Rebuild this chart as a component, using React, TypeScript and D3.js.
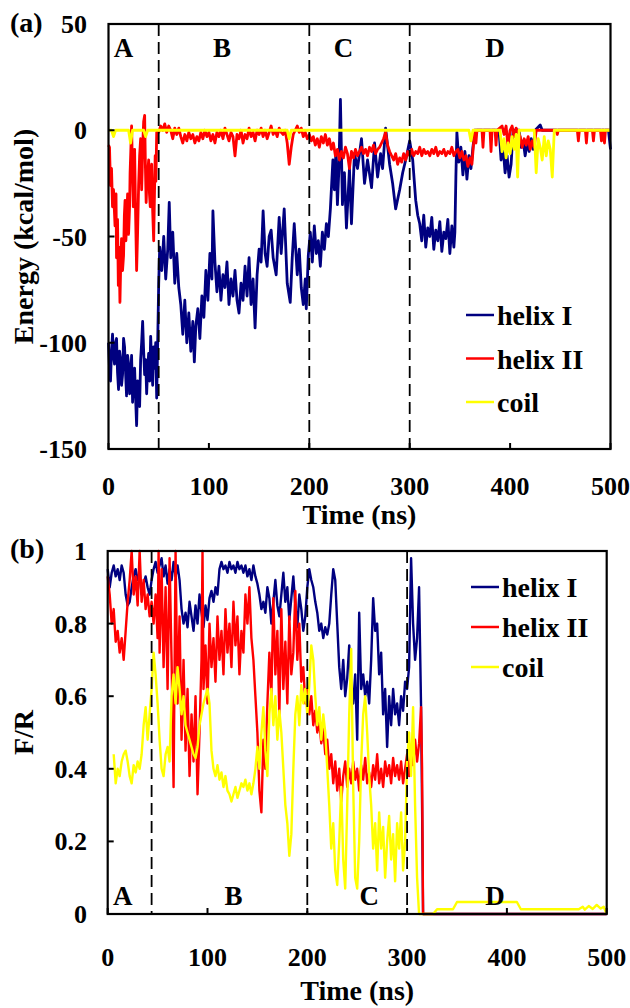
import React from 'react';
import * as d3 from 'd3';

type Pt = [number, number];

// ---- data (time in ns) ----
const timeTicks = [0, 100, 200, 300, 400, 500];
const energyTicks = [50, 0, -50, -100, -150];
const frTicks = [0, 0.2, 0.4, 0.6, 0.8, 1];
const seriesNames = ['helix I', 'helix II', 'coil'];
const seriesColors = ['#000080', '#ff0000', '#ffff00'];
const regionNames = ['A', 'B', 'C', 'D'];
const energyDividers = [50, 200, 300];
const frDividers = [44, 200, 300];

const energyHelixI: Pt[] = [
  [0, -100], [1, -112], [2, -118], [3, -104], [4, -96], [5, -106], [6, -110], [7, -100], [8, -98], [9, -114], [10, -122],
  [11, -104], [12, -108], [13, -120], [14, -115], [15, -98], [16, -102], [17, -114], [18, -125], [19, -106],
  [20, -110], [21, -124], [22, -118], [23, -106], [24, -128], [25, -116], [26, -112], [27, -126], [28, -139],
  [29, -118], [30, -120], [31, -130], [32, -108], [33, -100], [34, -90], [35, -104], [36, -115], [37, -108],
  [38, -124], [39, -112], [40, -105], [41, -118], [42, -97], [43, -110], [44, -120], [45, -102], [46, -112],
  [47, -100], [48, -126], [49, -100], [50, -72], [51, -55],
  [53, -66], [55, -50], [57, -70], [59, -56], [60.5, -34], [62, -60], [64, -48], [66, -72], [68, -58], [70, -74],
  [72, -82], [74, -96], [76, -80], [78, -100], [80, -86], [82, -104], [84, -90], [85.5, -109], [87, -92], [89, -84],
  [91, -98], [93, -78], [95, -88], [97, -66], [99, -80], [101, -58], [103, -70], [104, -38], [106, -62], [108, -76],
  [110, -64], [112, -80], [114, -68], [116, -74], [118, -62], [120, -82], [122, -70], [124, -78], [126, -66], [128, -80],
  [130, -86], [132, -72], [134, -80], [136, -64], [138, -78], [140, -60], [142, -82], [144, -70], [146, -93], [148, -68],
  [150, -56], [152, -62], [154, -38], [156, -58], [158, -64], [160, -50], [162, -47], [164, -60], [167, -68], [170, -41],
  [172, -58], [175, -37], [178, -72], [181, -81], [183, -60], [185, -44], [188, -68], [190, -56], [192, -74], [194, -82],
  [196, -70], [197, -84], [199, -59], [201, -48], [203, -62], [205, -45], [207, -58], [209, -52], [211, -64], [213, -48],
  [215, -56], [217, -44], [219, -50], [221, -37], [223.5, -14], [225, -28], [226.5, -10], [228, -35], [229.5, -18],
  [231, 14.5], [233, -35], [235, -20], [237, -46], [240, -18], [242, -44], [245, -11], [248, -18], [252, -4], [255, -25],
  [258, -14], [262, -27], [265, -6], [268, -22], [271, -11], [273, -18], [276, 1], [280, -16], [283, -25], [286, -37],
  [290, -28], [293, -20], [296, -14], [300, -5], [303, -14], [306, -33], [308, -40], [310, -44], [312, -52], [314, -40],
  [316, -55], [318, -46], [320, -50], [322, -41], [324, -56], [326, -47], [328, -52], [330, -43], [332, -57], [334, -48],
  [336, -51], [338, -42], [340, -58], [342, -45], [344, -55], [345, -48], [346, -22], [347, -1], [349, -15], [351, -8],
  [353, -21], [355, -10], [357, -23], [359, -12], [361, -18], [363, -8], [365, 0], [389, 0], [391, -14], [393, -8],
  [395, -20], [397, -12], [399, -22], [401, -16], [403, 0], [409, 0], [411, -8], [413, -5], [415, -12], [417, -6],
  [419, -10], [421, -4], [423, -9], [425, 0], [430, 2.5], [432, 0], [498, 0], [500, -9],
];

const energyHelixII: Pt[] = [
  [0, -7], [1, -8], [2, -26], [3, -18], [4, -36], [5, -28], [6.5, -45], [7.5, -30], [8, -60], [9, -42], [9.8, -73],
  [10.5, -55], [11.4, -81], [12.2, -62], [13, -51], [14, -66], [15, -59], [15.8, -40], [16.5, -33], [17.3, -52],
  [18, -45], [19, -30], [20, -49], [21, -36], [21.5, -20], [22.2, -10], [23, 2], [24, -22], [24.7, -36], [25.4, -18],
  [26, -9], [27, -40], [28, -66], [29, -48], [30, -26], [31, -12], [32, -4], [33, -28], [33.5, -20], [34.2, -6], [35, 4],
  [36, 7], [36.8, -18], [37.5, -34], [38.2, -24], [39, -20], [40, -14], [40.8, -30], [41.6, -36], [42.3, -22], [43, -16],
  [44, -38], [45, -52], [45.8, -30], [46.5, -12], [47.2, -24], [48, -1], [50, -1], [52, 2], [54, 0], [56, 3], [58, -1],
  [60, 2], [62, 0], [64, -4], [66, 1], [68, -2], [70, 1],
  [72, -3], [74, -6], [76, -2], [78, -5], [80, -1], [82, -4], [84, -2], [86, -6], [88, -3], [90, -5], [92, -1],
  [94, -4], [96, 0], [98, -3], [100, -1], [102, -5], [104, -2], [106, -6], [108, -1], [110, -3], [112, 0], [114, -4],
  [116, 1], [118, -2], [120, -5], [122, -1], [124, -3], [126, -12], [128, -2], [130, -4], [132, 0], [134, -6],
  [136, -2], [138, -4], [140, 1], [142, -3], [144, -1], [146, -5], [148, 0], [150, -2], [152, 1], [154, -3], [156, 0],
  [158, -4], [160, -1], [162, 2], [164, -2], [166, 0], [168, -3], [170, 1], [172, -1], [174, -2], [176, 0], [178, -6],
  [180, -16], [182, -8], [184, -2], [186, 0], [188, 2], [190, -1], [192, 1], [194, -3], [196, -1], [198, -4], [200, -2],
  [202, -5], [204, -3], [206, -7], [208, -4], [210, -8], [212, -3], [214, -6], [216, -2], [218, -7], [220, -4],
  [222, -9], [224, -6], [226, -12], [228, -9], [230, -14], [232, -10], [234, -13], [236, -8], [238, -11], [240, -18],
  [242, -10], [244, -13], [246, -9], [248, -12], [250, -10], [252, -8], [254, -11], [256, -9], [258, -12], [260, -8],
  [262, -10], [264, -7], [266, -11], [268, -9], [270, -8], [272, -6], [274, -4], [276, -1], [278, -7], [280, -10],
  [282, -12], [284, -14], [286, -11], [288, -16], [290, -13], [292, -15], [294, -11], [296, -14], [298, -10], [300, -12],
  [302, -9], [304, -12], [306, -10], [308, -11], [310, -8], [312, -12], [314, -9], [316, -11], [318, -10], [320, -12],
  [322, -9], [324, -11], [326, -8], [328, -12], [330, -10], [332, -11], [334, -9], [336, -12], [338, -10], [340, -11],
  [342, -8], [344, -12], [346, -10], [348, -9], [350, -13], [352, -10], [354, -14], [356, -12], [358, -17], [360, -13],
  [362, -16], [364, -4], [365, 0], [366, -6], [367, 0], [372, 0], [373, -8], [374, 0], [380, 0], [381, -10], [382, 0],
  [385, 0], [386, -7], [387, 0], [392, 2], [394, -2], [396, 2], [398, -8], [400, 0], [402, 2], [404, -3], [406, 1],
  [410, -3], [412, -8], [414, -4], [416, -7], [418, -3], [420, -9], [422, -5], [424, -8], [426, 0], [446, 0], [447, -2],
  [448, 0], [467, 0], [468, -5], [469, 0], [475, 0], [476, -6], [477, 0], [482, 0], [483, -5], [484, 0], [490, 0],
  [491, -5], [492, 0], [493, 0], [494, -6], [495, 0], [500, 0],
];

const energyCoil: Pt[] = [
  [0, 0], [3, 0], [5, -3], [7, 0], [20, 0], [22, -6], [24, 0], [35, 0], [37, -3], [39, 0], [178, 0], [180, -4],
  [182, 0], [359, 0], [361, -5], [363, 0], [390, 0], [392, -10], [394, -4], [396, -13], [398, -6], [400, -11],
  [402, -3], [404, -9], [406, -2], [407.5, -22], [409, 0], [424, 0], [426, -20], [428, -4], [430, -8], [432, -14],
  [434, -3], [436, -12], [438, -5], [440, -9], [442, -22], [444, 0], [500, 0],
];

const frHelixI: Pt[] = [
  [0, 0.95], [2, 0.9], [4, 0.94], [6, 0.96], [8, 0.93], [10, 0.95], [12, 0.92], [14, 0.96], [16, 0.94], [18, 0.88],
  [20, 0.85], [22, 0.86], [24, 0.9], [26, 0.93], [28, 0.95], [30, 0.92], [32, 0.94], [34, 0.88], [36, 0.91], [38, 0.93],
  [40, 0.9], [42, 0.88], [44, 0.92], [46, 0.95], [48, 0.97], [50, 0.94], [52, 0.96], [54, 0.98], [56, 0.93], [58, 0.96],
  [60, 0.91], [62, 0.95], [64, 0.92], [66, 0.97], [68, 0.93], [70, 0.96], [72, 0.92], [74, 0.84], [76, 0.8], [78, 0.83],
  [80, 0.79], [82, 0.86], [84, 0.82], [86, 0.78], [88, 0.85], [90, 0.8], [92, 0.88], [94, 0.83], [96, 0.79], [98, 0.85],
  [100, 0.81], [102, 0.87], [104, 0.89], [106, 0.86], [108, 0.9], [110, 0.88], [112, 0.95], [114, 0.97], [116, 0.95],
  [118, 0.96], [120, 0.94], [122, 0.97], [124, 0.95], [126, 0.96], [128, 0.94], [130, 0.97], [132, 0.95], [134, 0.96],
  [136, 0.94], [138, 0.96], [140, 0.93], [142, 0.95], [144, 0.92], [146, 0.96], [148, 0.93], [150, 0.91], [152, 0.88],
  [154, 0.84], [156, 0.86], [158, 0.83], [160, 0.9], [162, 0.87], [164, 0.8], [166, 0.86], [168, 0.92], [170, 0.85],
  [172, 0.82], [174, 0.88], [176, 0.94], [178, 0.86], [180, 0.9], [182, 0.81], [184, 0.87], [186, 0.93], [188, 0.85],
  [190, 0.79], [192, 0.88], [194, 0.84], [196, 0.78], [198, 0.82], [200, 0.9], [202, 0.95], [204, 0.92], [206, 0.9],
  [208, 0.86], [210, 0.83], [212, 0.78], [214, 0.8], [216, 0.76], [218, 0.79], [220, 0.77], [222, 0.8], [224, 0.88],
  [226, 0.95], [228, 0.92], [230, 0.8], [232, 0.68], [234, 0.62], [236, 0.7], [238, 0.6], [240, 0.65], [242, 0.74],
  [244, 0.63], [246, 0.58], [248, 0.66], [250, 0.48], [252, 0.83], [254, 0.62], [256, 0.66], [258, 0.6], [260, 0.64],
  [262, 0.58], [264, 0.7], [266, 0.87], [268, 0.78], [270, 0.8], [272, 0.66], [274, 0.72], [276, 0.55], [278, 0.62],
  [280, 0.46], [282, 0.6], [284, 0.52], [286, 0.62], [288, 0.55], [290, 0.58], [292, 0.52], [294, 0.6], [296, 0.56],
  [298, 0.64], [300, 0.62], [302, 0.68], [304, 0.98], [306, 0.8], [308, 0.7], [310, 0.76], [312, 0.9], [314, 0.57],
  [315, 0.3], [316, 0], [500, 0],
];

const frHelixII: Pt[] = [
  [0, 0.93], [2, 0.88], [4, 0.8], [6, 0.84], [8, 0.75], [10, 0.78], [12, 0.72], [14, 0.76], [16, 0.7], [18, 0.78],
  [20, 0.86], [22, 0.92], [24, 1.0], [26, 0.88], [28, 0.93], [30, 0.85], [32, 1.0], [34, 0.86], [36, 0.92], [38, 0.84],
  [40, 0.88], [42, 0.82], [44, 0.86], [46, 0.8], [48, 0.88], [50, 0.76], [51, 1.0], [52, 0.72], [54, 0.95], [56, 0.68],
  [58, 0.9], [60, 0.62], [62, 0.98], [64, 0.7], [66, 0.35], [68, 1.0], [70, 0.58], [72, 0.82], [74, 0.48], [76, 0.7],
  [78, 0.45], [80, 0.62], [82, 0.38], [84, 0.55], [86, 0.42], [88, 0.6], [90, 0.33], [92, 0.5], [94, 0.7], [95, 1.0],
  [96, 0.62], [98, 0.74], [100, 0.58], [102, 0.8], [104, 0.68], [106, 0.76], [108, 0.64], [110, 0.82], [112, 0.7],
  [114, 0.78], [116, 0.66], [118, 0.84], [120, 0.72], [122, 0.8], [124, 0.68], [126, 0.86], [128, 0.74], [130, 0.82],
  [132, 0.66], [134, 0.78], [136, 0.72], [138, 0.88], [140, 0.8], [142, 0.9], [144, 0.76], [146, 0.7], [148, 0.6],
  [150, 0.5], [152, 0.34], [154, 0.28], [156, 0.48], [158, 0.4], [160, 0.58], [162, 0.72], [164, 0.6], [166, 0.87],
  [168, 0.66], [170, 0.78], [172, 0.55], [174, 0.84], [176, 0.62], [178, 0.75], [180, 0.58], [182, 0.82], [184, 0.66],
  [186, 0.72], [188, 0.89], [190, 0.7], [192, 0.8], [194, 0.64], [196, 0.68], [198, 0.58], [200, 0.62], [202, 0.55],
  [204, 0.6], [206, 0.52], [208, 0.56], [210, 0.5], [212, 0.53], [214, 0.47], [216, 0.51], [218, 0.44], [220, 0.48],
  [222, 0.4], [224, 0.44], [226, 0.36], [228, 0.42], [230, 0.34], [232, 0.4], [234, 0.31], [236, 0.38], [238, 0.42],
  [240, 0.35], [242, 0.4], [244, 0.36], [246, 0.42], [248, 0.37], [250, 0.4], [252, 0.34], [254, 0.41], [256, 0.37],
  [258, 0.43], [260, 0.36], [262, 0.39], [264, 0.35], [266, 0.41], [268, 0.37], [270, 0.44], [272, 0.36], [274, 0.4],
  [276, 0.35], [278, 0.42], [280, 0.38], [282, 0.41], [284, 0.36], [286, 0.43], [288, 0.38], [290, 0.41], [292, 0.37],
  [294, 0.42], [296, 0.36], [298, 0.4], [300, 0.44], [302, 0.38], [304, 0.46], [306, 0.41], [308, 0.48], [310, 0.42],
  [312, 0.47], [314, 0.57], [315, 0.4], [316, 0], [500, 0],
];

const frCoil: Pt[] = [
  [6, 0.44], [8, 0.36], [10, 0.4], [12, 0.38], [14, 0.42], [16, 0.44], [18, 0.45], [20, 0.42], [22, 0.38], [24, 0.36],
  [26, 0.41], [28, 0.39], [30, 0.42], [32, 0.4], [34, 0.44], [36, 0.52], [38, 0.57], [40, 0.48], [42, 0.55], [44, 0.62],
  [46, 0.72], [48, 0.66], [50, 0.58], [52, 0.48], [54, 0.4], [56, 0.38], [58, 0.44], [60, 0.46], [62, 0.42], [64, 0.6],
  [66, 0.66], [68, 0.58], [70, 0.68], [72, 0.62], [74, 0.55], [76, 0.6], [78, 0.52], [80, 0.5], [82, 0.48], [84, 0.46],
  [86, 0.44], [88, 0.43], [90, 0.46], [92, 0.52], [94, 0.55], [96, 0.58], [98, 0.6], [100, 0.62], [102, 0.58],
  [104, 0.45], [106, 0.4], [108, 0.38], [110, 0.41], [112, 0.37], [114, 0.39], [116, 0.35], [118, 0.38], [120, 0.34],
  [122, 0.33], [124, 0.31], [126, 0.33], [128, 0.35], [130, 0.32], [132, 0.34], [134, 0.36], [136, 0.35], [138, 0.37],
  [140, 0.34], [142, 0.36], [144, 0.33], [146, 0.36], [148, 0.4], [150, 0.46], [152, 0.4], [154, 0.5], [156, 0.57],
  [158, 0.45], [160, 0.38], [162, 0.55], [164, 0.62], [166, 0.52], [168, 0.6], [170, 0.48], [172, 0.56], [174, 0.5],
  [176, 0.4], [178, 0.3], [180, 0.25], [182, 0.16], [184, 0.22], [186, 0.4], [188, 0.55], [190, 0.6], [192, 0.52],
  [194, 0.63], [196, 0.58], [198, 0.62], [200, 0.55], [202, 0.63], [204, 0.74], [206, 0.7], [208, 0.6], [210, 0.52],
  [212, 0.57], [214, 0.48], [216, 0.55], [218, 0.5], [220, 0.4], [222, 0.3], [224, 0.18], [226, 0.25], [228, 0.12],
  [230, 0.08], [232, 0.2], [234, 0.35], [236, 0.15], [238, 0.07], [240, 0.3], [242, 0.55], [244, 0.73], [246, 0.35],
  [248, 0.1], [250, 0.07], [252, 0.2], [254, 0.42], [256, 0.55], [258, 0.6], [260, 0.5], [262, 0.38], [264, 0.3],
  [266, 0.18], [268, 0.25], [270, 0.12], [272, 0.28], [274, 0.18], [276, 0.24], [278, 0.1], [280, 0.2], [282, 0.27],
  [284, 0.15], [286, 0.22], [288, 0.09], [290, 0.25], [292, 0.18], [294, 0.28], [296, 0.12], [298, 0.2], [300, 0.42],
  [302, 0.5], [304, 0.38], [306, 0.57], [308, 0.3], [310, 0.1], [312, 0], [326, 0], [330, 0.013], [346, 0.013],
  [350, 0.033], [410, 0.033], [414, 0.013], [472, 0.013], [476, 0.02], [478, 0.012], [482, 0.022], [486, 0.014],
  [490, 0.025], [494, 0.015], [497, 0.02], [500, 0],
];

const FONT = '"Liberation Serif", "Times New Roman", serif';

type PanelProps = {
  left: number; right: number; top: number; bottom: number;
  yDomain: [number, number];
  yTicks: number[];
  series: Pt[][];
  dividers: number[];
  regionAt: number[];
  regionBaseline: number;
  yLabel: string;
  tag: string;
  tagBaseline: number;
  tickBaseline: number;
  titleBaseline: number;
  legendX: number;
  legendY: number;
  legendStep: number;
  lineWidth: number;
};

function Panel(p: PanelProps) {
  const x = d3.scaleLinear().domain([0, 500]).range([p.left, p.right]);
  const y = d3.scaleLinear().domain(p.yDomain).range([p.bottom, p.top]);
  const line = d3.line<Pt>().x(d => x(d[0])).y(d => y(d[1]));
  const midY = (p.top + p.bottom) / 2;
  return (
    <g fontFamily={FONT} fontWeight="bold" fill="#000">
      <text x={10} y={p.tagBaseline} fontSize={28}>{p.tag}</text>
      {p.series.map((s, i) => (
        <path key={i} d={line(s) || ''} fill="none" stroke={seriesColors[i]}
          strokeWidth={p.lineWidth} strokeLinejoin="round" />
      ))}
      {p.dividers.map(t => (
        <line key={t} x1={x(t)} x2={x(t)} y1={p.top} y2={p.bottom}
          stroke="#000" strokeWidth={1.8} strokeDasharray="12,6" />
      ))}
      {regionNames.map((r, i) => (
        <text key={r} x={x(p.regionAt[i])} y={p.regionBaseline} fontSize={27} textAnchor="middle">{r}</text>
      ))}
      <rect x={p.left} y={p.top} width={p.right - p.left} height={p.bottom - p.top}
        fill="none" stroke="#000" strokeWidth={2.2} />
      {timeTicks.map(t => (
        <g key={t}>
          <line x1={x(t)} x2={x(t)} y1={p.bottom} y2={p.bottom - 6} stroke="#000" strokeWidth={2} />
          <text x={x(t)} y={p.tickBaseline} fontSize={26} textAnchor="middle">{t}</text>
        </g>
      ))}
      {p.yTicks.map(v => (
        <g key={v}>
          <line x1={p.left} x2={p.left + 6} y1={y(v)} y2={y(v)} stroke="#000" strokeWidth={2} />
          <text x={87} y={y(v) + 9} fontSize={26} textAnchor="end">{v}</text>
        </g>
      ))}
      <text x={(p.left + p.right) / 2} y={p.titleBaseline} fontSize={28} textAnchor="middle">Time (ns)</text>
      <text transform={`translate(33,${midY}) rotate(-90)`} fontSize={28} textAnchor="middle">{p.yLabel}</text>
      {seriesNames.map((n, i) => {
        const ly = p.legendY + i * p.legendStep;
        return (
          <g key={n}>
            <line x1={p.legendX} x2={p.legendX + 28} y1={ly} y2={ly} stroke={seriesColors[i]} strokeWidth={2.5} />
            <text x={p.legendX + 31} y={ly + 10} fontSize={28}>{n}</text>
          </g>
        );
      })}
    </g>
  );
}

export default function App() {
  return (
    <svg width={630} height={1008} style={{ position: 'absolute', left: 0, top: 0, background: '#fff' }}>
      <rect width={630} height={1008} fill="#fff" />
      <Panel left={108.5} right={610.5} top={24} bottom={449}
        yDomain={[-150, 50]} yTicks={energyTicks}
        series={[energyHelixI, energyHelixII, energyCoil]}
        dividers={energyDividers} regionAt={[15, 113, 234, 385]} regionBaseline={57}
        yLabel="Energy (kcal/mol)" tag="(a)" tagBaseline={32}
        tickBaseline={495} titleBaseline={524}
        legendX={466} legendY={315} legendStep={43.5} lineWidth={2.8} />
      <Panel left={107.7} right={606.7} top={551} bottom={914}
        yDomain={[0, 1]} yTicks={frTicks}
        series={[frHelixI, frHelixII, frCoil]}
        dividers={frDividers} regionAt={[15, 126, 262, 388]} regionBaseline={905}
        yLabel="F/R" tag="(b)" tagBaseline={558}
        tickBaseline={966} titleBaseline={1000}
        legendX={471} legendY={587} legendStep={40} lineWidth={2.4} />
    </svg>
  );
}
